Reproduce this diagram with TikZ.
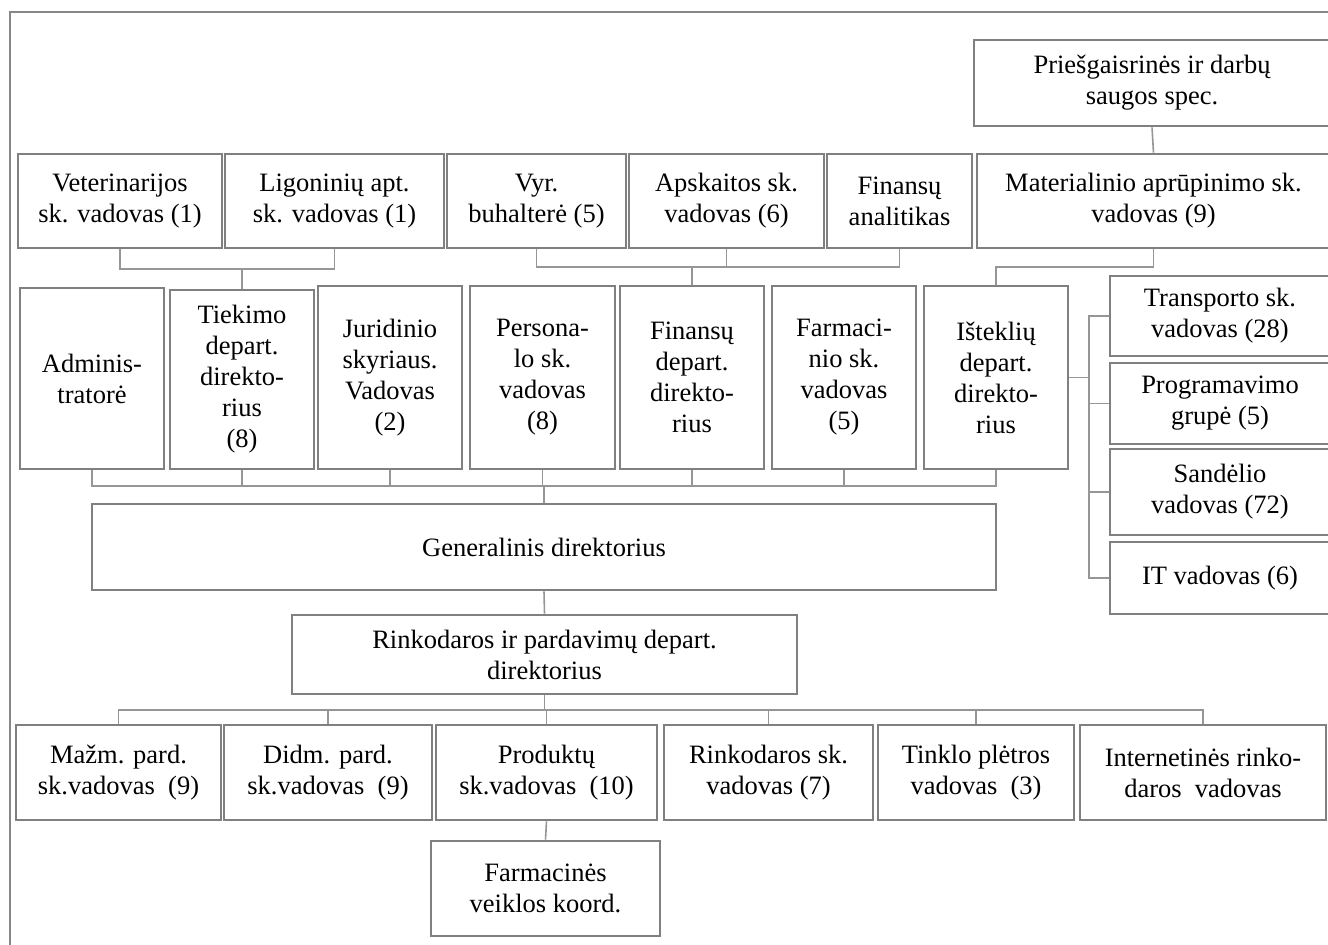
\documentclass[tikz,border=0pt]{standalone}
\usepackage{fontspec}
\setmainfont{Liberation Serif}
\definecolor{boxgray}{RGB}{128,128,128}
\definecolor{linegray}{RGB}{150,150,150}
\definecolor{framegray}{RGB}{135,135,135}
\tikzset{
  orgbox/.style={draw=boxgray, line width=1.4pt, inner sep=0pt, align=center,
    font=\fontsize{13.25pt}{15.5pt}\selectfont},
  conn/.style={draw=linegray, line width=0.8pt},
  frameline/.style={draw=framegray, line width=0.9pt}
}
% \orgbox{name}{x1}{y1}{x2}{y2}{text}: box given by its corners
\newcommand{\orgunit}[6]{%
  \node[orgbox, minimum width={(#4-#2)*0.5pt}, minimum height={(#5-#3)*0.5pt}]
    (#1) at ({(#2+#4)/2},{(#3+#5)/2}) {#6};}
\begin{document}
\begin{tikzpicture}[x=0.5pt, y=-0.5pt]
\clip (0,0) rectangle (1328,944);
\fill[white] (0,0) rectangle (1328,944);

% outer frame
\draw[frameline] (10,950) -- (10,12) -- (1340,12);

% top row
\orgunit{pries}{974}{40}{1330}{126}{Priešgaisrinės ir darbų\\saugos spec.}
\orgunit{vet}{18}{154}{222}{248}{Veterinarijos\\sk. vadovas (1)}
\orgunit{lig}{225}{154}{444}{248}{Ligoninių apt.\\sk. vadovas (1)}
\orgunit{vyr}{447}{154}{626}{248}{Vyr.\\buhalterė (5)}
\orgunit{apsk}{629}{154}{824}{248}{Apskaitos sk.\\vadovas (6)}
\orgunit{finan}{827}{154}{972}{248}{Finansų\\analitikas}
\orgunit{mat}{977}{154}{1330}{248}{Materialinio aprūpinimo sk.\\vadovas (9)}

% departments
\orgunit{adm}{20}{288}{164}{469}{Adminis-\\tratorė}
\orgunit{tiek}{170}{290}{314}{469}{Tiekimo\\depart.\\direkto-\\rius\\(8)}
\orgunit{jur}{318}{286}{462}{469}{Juridinio\\skyriaus.\\Vadovas\\(2)}
\orgunit{pers}{470}{286}{615}{469}{Persona-\\lo sk.\\vadovas\\(8)}
\orgunit{fdep}{620}{286}{764}{469}{Finansų\\depart.\\direkto-\\rius}
\orgunit{farm}{772}{286}{916}{469}{Farmaci-\\nio sk.\\vadovas\\(5)}
\orgunit{ist}{924}{286}{1068}{469}{Išteklių\\depart.\\direkto-\\rius}

% resources column
\orgunit{trans}{1110}{276}{1330}{356}{Transporto sk.\\vadovas (28)}
\orgunit{prog}{1110}{363}{1330}{444}{Programavimo\\grupė (5)}
\orgunit{sand}{1110}{449}{1330}{535}{Sandėlio\\vadovas (72)}
\orgunit{it}{1110}{542}{1330}{614}{IT vadovas (6)}

% management
\orgunit{gen}{92}{504}{996}{590}{Generalinis direktorius}
\orgunit{rink}{292}{615}{797}{694}{Rinkodaros ir pardavimų depart.\\direktorius}

% marketing and sales
\orgunit{mazm}{16}{725}{221}{820}{Mažm. pard.\\sk.vadovas~~(9)}
\orgunit{didm}{224}{725}{432}{820}{Didm. pard.\\sk.vadovas~~(9)}
\orgunit{prod}{436}{725}{657}{820}{Produktų\\sk.vadovas~~(10)}
\orgunit{rsk}{664}{725}{873}{820}{Rinkodaros sk.\\vadovas (7)}
\orgunit{tink}{878}{725}{1074}{820}{Tinklo plėtros\\vadovas~~(3)}
\orgunit{inet}{1080}{725}{1326}{820}{Internetinės rinko-\\daros~~vadovas}
\orgunit{farmk}{431}{841}{660}{936}{Farmacinės\\veiklos koord.}

% bus levels
\coordinate (busA) at (0,269);
\coordinate (busB) at (0,267);
\coordinate (busC) at (0,486);
\coordinate (busD) at (1089,0);
\coordinate (busE) at (0,710);

% connectors
\draw[conn] (vet.south) |- (tiek.north |- busA) -| (lig.south);
\draw[conn] (tiek.north) -- (tiek.north |- busA);

\draw[conn] (vyr.south) |- (fdep.north |- busB) -| (finan.south);
\draw[conn] (apsk.south) -- (apsk.south |- busB);
\draw[conn] (fdep.north) -- (fdep.north |- busB);

\draw[conn] (pries.south) -- (mat.north);
\draw[conn] (mat.south) |- (ist.north |- busB) -- (ist.north);

\draw[conn] (adm.south) |- (ist.south |- busC) -- (ist.south);
\foreach \n in {tiek,jur,pers,fdep,farm}
  \draw[conn] (\n.south) -- (\n.south |- busC);
\draw[conn] (gen.north) -- (gen.north |- busC);

\draw[conn] (ist.east) -- (ist.east -| busD);
\draw[conn] (trans.west) -- (trans.west -| busD) |- (it.west);
\draw[conn] (prog.west) -- (prog.west -| busD);
\draw[conn] (sand.west) -- (sand.west -| busD);

\draw[conn] (gen.south) -- (rink.north);
\draw[conn] (rink.south) -- (rink.south |- busE);
\draw[conn] (mazm.north) |- (inet.north |- busE) -- (inet.north);
\foreach \n in {didm,prod,rsk,tink}
  \draw[conn] (\n.north) -- (\n.north |- busE);
\draw[conn] (prod.south) -- (farmk.north);
\end{tikzpicture}
\end{document}
